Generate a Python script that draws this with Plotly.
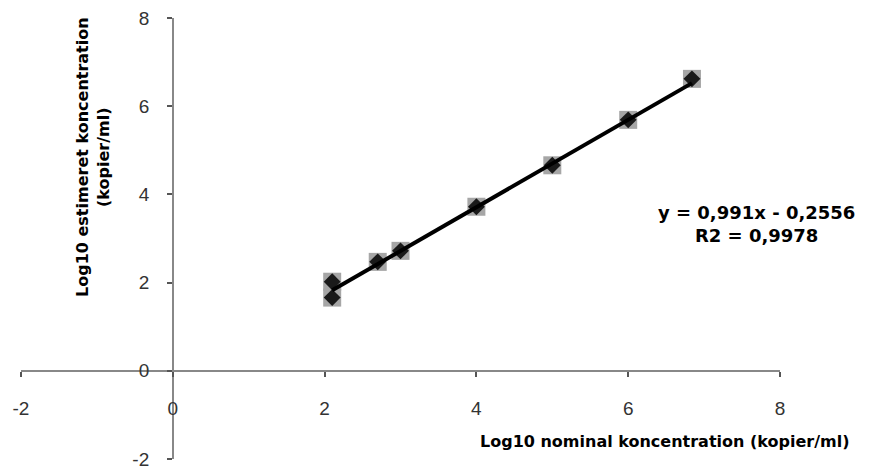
import plotly.graph_objects as go

# Data
nominal = [2.1, 2.1, 2.7, 3.0, 4.0, 5.0, 6.0, 6.84]
estimated = [2.02, 1.66, 2.47, 2.72, 3.72, 4.66, 5.69, 6.62]
slope = 0.991
intercept = -0.2556
r2 = 0.9978
x_ticks = [-2, 0, 2, 4, 6, 8]
y_ticks = [-2, 0, 2, 4, 6, 8]

fit_x = [min(nominal), max(nominal)]
fit_y = [slope * v + intercept for v in fit_x]

fig = go.Figure()
fig.add_trace(go.Scatter(x=nominal, y=estimated, mode="markers",
                         marker=dict(symbol="square", size=18, color="#a6a6a6"),
                         showlegend=False, hoverinfo="skip"))
fig.add_trace(go.Scatter(x=nominal, y=estimated, mode="markers",
                         marker=dict(symbol="diamond", size=13, color="#1a1a1a"),
                         showlegend=False))
fig.add_trace(go.Scatter(x=fit_x, y=fit_y, mode="lines",
                         line=dict(color="black", width=4),
                         showlegend=False, hoverinfo="skip"))

axis_col = "#888888"
title_font = "DejaVu Sans, Verdana, sans-serif"
fig.update_layout(
    width=870, height=470,
    margin=dict(l=21, r=90, t=18, b=11, autoexpand=False),
    paper_bgcolor="white", plot_bgcolor="white",
    font=dict(family="Liberation Sans, Arial, sans-serif", size=19, color="#333333"),
    xaxis=dict(range=[-2, 8], tickvals=x_ticks, ticktext=[str(v) for v in x_ticks],
               anchor="free", position=0.2, showline=True, linecolor=axis_col, linewidth=1.5,
               ticks="outside", ticklen=5, tickcolor="#555555", tickwidth=1.5,
               showgrid=False, zeroline=False, ticklabelstandoff=16, automargin=False),
    yaxis=dict(range=[-2, 8], tickvals=y_ticks, ticktext=[str(v) for v in y_ticks],
               anchor="free", position=0.2, showline=True, linecolor=axis_col, linewidth=1.5,
               ticks="outside", ticklen=5, tickcolor="#555555", tickwidth=1.5,
               showgrid=False, zeroline=False, ticklabelstandoff=14, automargin=False),
)

fig.add_annotation(xref="paper", yref="paper", x=(665 - 21) / 759, y=(459 - 441) / 441,
                   text="<b>Log10 nominal koncentration (kopier/ml)</b>", showarrow=False,
                   font=dict(family=title_font, size=16, color="black"),
                   xanchor="center", yanchor="middle")
fig.add_annotation(xref="paper", yref="paper", x=(93 - 21) / 759, y=(459 - 157) / 441,
                   text="<b>Log10 estimeret koncentration<br>(kopier/ml)</b>", showarrow=False,
                   textangle=-90, font=dict(family=title_font, size=16, color="black"),
                   xanchor="center", yanchor="middle")
fig.add_annotation(xref="paper", yref="paper", x=(756 - 21) / 759, y=(459 - 224) / 441,
                   text=f"<b>y = {str(slope).replace('.', ',')}x - {str(-intercept).replace('.', ',')}<br>R2 = {str(r2).replace('.', ',')}</b>",
                   showarrow=False, font=dict(family=title_font, size=18, color="black"),
                   xanchor="center", yanchor="middle", align="center")

fig.write_html("out.html")
